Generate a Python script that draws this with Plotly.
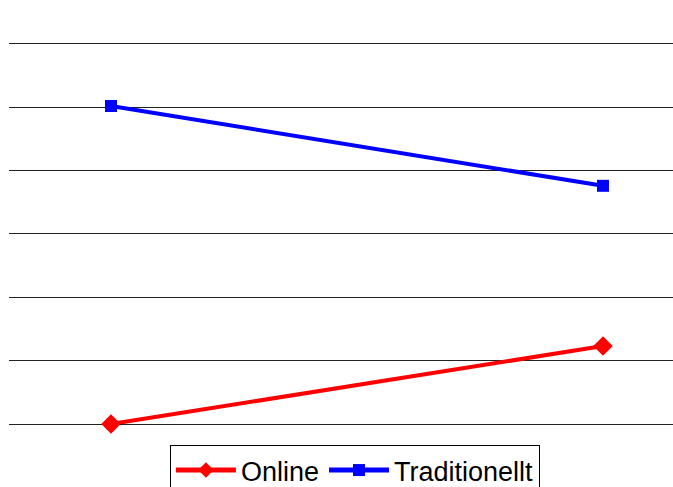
import plotly.graph_objects as go

categories = ["1", "2"]
online = [0.0, 1.23]
traditionellt = [5.02, 3.76]
series_names = ["Online", "Traditionellt"]

fig = go.Figure()
fig.add_trace(go.Scatter(
    x=[0, 1], y=online, name=series_names[0], mode="lines+markers",
    line=dict(color="#FF0000", width=4),
    marker=dict(symbol="diamond", size=15, color="#FF0000"),
    cliponaxis=False,
))
fig.add_trace(go.Scatter(
    x=[0, 1], y=traditionellt, name=series_names[1], mode="lines+markers",
    line=dict(color="#0000FF", width=4),
    marker=dict(symbol="square", size=12, color="#0000FF"),
    cliponaxis=False,
))

fig.update_layout(
    width=673, height=487,
    margin=dict(l=9, r=0, t=42, b=63, autoexpand=False),
    paper_bgcolor="white", plot_bgcolor="white",
    font=dict(family="Liberation Sans, Arial, sans-serif", color="black"),
    xaxis=dict(range=[-0.2073, 1.1423], showticklabels=False, showgrid=False,
               zeroline=False, showline=False, ticks="",
               tickvals=[0, 1], ticktext=categories),
    yaxis=dict(range=[0, 6.03], tickvals=[0, 1, 2, 3, 4, 5, 6], showticklabels=False,
               showgrid=True, gridcolor="#222222", gridwidth=1, zeroline=True,
               zerolinecolor="#222222", zerolinewidth=1, showline=False, ticks=""),
    legend=dict(orientation="h", x=0.521, xanchor="center", y=-0.055, yanchor="top",
                bordercolor="black", borderwidth=1, bgcolor="white",
                font=dict(size=27, family="Liberation Sans, Arial, sans-serif"),
                itemsizing="constant", itemwidth=60),
    showlegend=True,
)

fig.write_html("out.html",
               config={"displayModeBar": False},
               post_script="document.body.style.margin='0';document.body.style.overflow='hidden';")
